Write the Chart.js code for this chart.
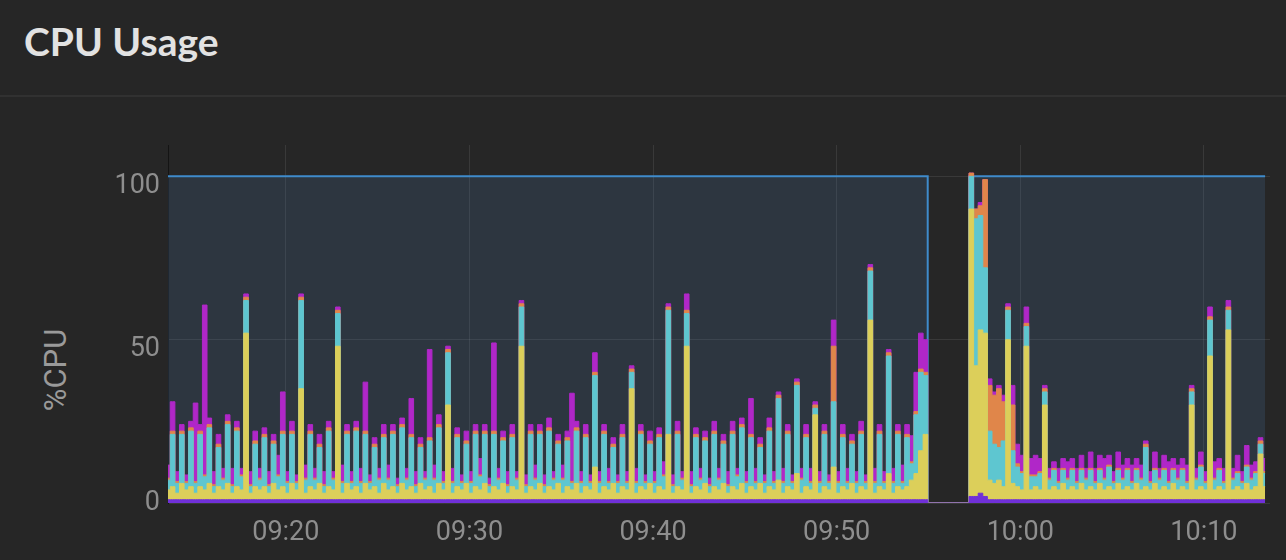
<!DOCTYPE html>
<html>
<head>
<meta charset="utf-8">
<script src="https://cdn.jsdelivr.net/npm/chart.js@4.4.1/dist/chart.umd.min.js"></script>
<style>
  html, body { margin: 0; padding: 0; background: #262626; overflow: hidden; }
  #title {
    position: absolute; left: 24px; top: 22px;
    font: bold 39px Lato, sans-serif; line-height: 39px; color: #e2e2e2;
  }
  #sep { position: absolute; left: 0; top: 95px; width: 1286px; height: 2px; background: #313131; }
  #ylab {
    position: absolute; left: 55px; top: 370px;
    transform: translate(-50%, -50%) rotate(-90deg);
    font: 31px Roboto, sans-serif; color: #9a9a9a; white-space: nowrap;
  }
  #wrap { position: absolute; left: 0; top: 100px; width: 1286px; height: 460px; }
</style>
</head>
<body>
<div id="title">CPU Usage</div>
<div id="sep"></div>
<div id="ylab">%CPU</div>
<div id="wrap"><canvas id="cpu"></canvas></div>
<script>
// time axis: minutes after 09:00, one sample every 15 s
const T_START = 13 + 35 / 60;
const T_END = 73.6;
const STEP = 0.25;

const X_TICKS = [20, 30, 40, 50, 60, 70];
const X_LABELS = ['09:20', '09:30', '09:40', '09:50', '10:00', '10:10'];
const Y_TICKS = [0, 50, 100];

// total capacity (shaded band), drops while the host was down
const capacity = [
  100,100,100,100,100,100,100,100,100,100,100,100,100,100,100,100,100,100,100,100,
  100,100,100,100,100,100,100,100,100,100,100,100,100,100,100,100,100,100,100,100,
  100,100,100,100,100,100,100,100,100,100,100,100,100,100,100,100,100,100,100,100,
  100,100,100,100,100,100,100,100,100,100,100,100,100,100,100,100,100,100,100,100,
  100,100,100,100,100,100,100,100,100,100,100,100,100,100,100,100,100,100,100,100,
  100,100,100,100,100,100,100,100,100,100,100,100,100,100,100,100,100,100,100,100,
  100,100,100,100,100,100,100,100,100,100,100,100,100,100,100,100,100,100,100,100,
  100,100,100,100,100,100,100,100,100,100,100,100,100,100,100,100,100,100,100,100,
  100,100,100,100,100,100,0,0,0,0,0,0,0,0,0,100,100,100,100,100,
  100,100,100,100,100,100,100,100,100,100,100,100,100,100,100,100,100,100,100,100,
  100,100,100,100,100,100,100,100,100,100,100,100,100,100,100,100,100,100,100,100,
  100,100,100,100,100,100,100,100,100,100,100,100,100,100,100,100,100,100,100,100
];

// stacked, bottom to top
const irq = [
  1,1,1,1,1,1,1,1,1,1,1,1,1,1,1,1,1,1,1,1,
  1,1,1,1,1,1,1,1,1,1,1,1,1,1,1,1,1,1,1,1,
  1,1,1,1,1,1,1,1,1,1,1,1,1,1,1,1,1,1,1,1,
  1,1,1,1,1,1,1,1,1,1,1,1,1,1,1,1,1,1,1,1,
  1,1,1,1,1,1,1,1,1,1,1,1,1,1,1,1,1,1,1,1,
  1,1,1,1,1,1,1,1,1,1,1,1,1,1,1,1,1,1,1,1,
  1,1,1,1,1,1,1,1,1,1,1,1,1,1,1,1,1,1,1,1,
  1,1,1,1,1,1,1,1,1,1,1,1,1,1,1,1,1,1,1,1,
  1,1,1,1,1,1,0,0,0,0,0,0,0,0,0,2,2,3,2,1,
  1,1,1,1,1,1,1,1,1,1,1,1,1,1,1,1,1,1,1,1,
  1,1,1,1,1,1,1,1,1,1,1,1,1,1,1,1,1,1,1,1,
  1,1,1,1,1,1,1,1,1,1,1,1,1,1,1,1,1,1,1,1
];

const user = [
  3,4,2,5,3,4,2,4,3,5,2,4,3,5,2,4,3,51,2,4,
  3,4,2,5,3,4,2,5,3,34,2,4,3,5,2,4,3,47,2,5,
  3,4,2,5,3,4,2,5,3,4,2,5,3,4,2,5,3,4,2,5,
  3,29,2,4,3,5,2,4,3,5,2,4,3,5,2,4,3,47,2,4,
  3,5,2,4,3,5,2,4,3,5,2,4,3,10,2,4,3,5,2,4,
  3,34,2,4,3,5,2,4,3,20,2,4,3,47,2,4,3,5,2,4,
  3,5,2,4,3,5,2,4,3,5,2,4,3,6,2,4,3,8,2,4,
  3,26,2,4,3,10,2,4,3,5,2,4,3,55,2,4,3,8,2,4,
  3,4,6,8,15,20,0,0,0,0,0,0,0,0,0,88,40,50,50,6,
  5,6,4,49,5,4,3,47,3,4,3,29,3,4,3,5,3,4,3,5,
  3,4,3,5,3,4,3,5,3,4,3,5,3,4,3,5,3,4,3,5,
  3,4,3,29,3,4,3,44,3,4,3,52,3,4,3,5,3,4,14,4
];

const system = [
  3,16,3,15,2,17,3,16,4,17,2,12,3,18,2,17,4,10,2,13,
  3,15,2,12,4,16,3,15,2,27,4,16,3,11,2,17,3,10,3,15,
  2,17,3,15,2,12,4,14,3,16,2,17,3,15,2,11,3,14,4,17,
  2,16,3,15,2,12,3,16,4,15,2,16,3,13,2,15,3,12,2,16,
  3,15,2,17,3,12,4,14,2,16,3,15,2,28,3,16,2,11,3,15,
  2,5,3,16,2,12,3,15,4,38,2,16,3,10,2,15,3,13,2,16,
  3,12,2,16,4,17,3,15,2,11,3,17,2,25,3,16,2,27,4,15,
  2,2,3,16,2,20,3,15,2,12,3,16,2,15,3,16,2,36,3,16,
  2,15,5,18,24,18,0,0,0,0,0,0,0,0,0,10,45,35,20,15,
  12,10,14,9,10,6,5,6,4,3,5,4,3,5,2,4,3,5,2,4,
  3,5,2,4,3,6,2,4,3,5,2,4,3,12,2,4,3,5,2,4,
  3,5,2,4,3,6,2,11,3,5,2,6,3,4,2,5,3,4,3,4
];

const iowait = [
  0.6,1,0.6,1,0.6,1,0.6,1,0.6,1,0.6,1,0.6,1,0.6,1,0.6,1,0.6,1,
  0.6,1,0.6,1,0.6,1,0.6,1,0.6,1,0.6,1,0.6,1,0.6,1,0.6,1,0.6,1,
  0.6,1,0.6,1,0.6,1,0.6,1,0.6,1,0.6,1,0.6,1,0.6,1,0.6,1,0.6,1,
  0.6,1,0.6,1,0.6,1,0.6,1,0.6,1,0.6,1,0.6,1,0.6,1,0.6,1,0.6,1,
  0.6,1,0.6,1,0.6,1,0.6,1,0.6,1,0.6,1,0.6,1,0.6,1,0.6,1,0.6,1,
  0.6,1,0.6,1,0.6,1,0.6,1,0.6,1,0.6,1,0.6,1,0.6,1,0.6,1,0.6,1,
  0.6,1,0.6,1,0.6,1,0.6,1,0.6,1,0.6,1,0.6,1,0.6,1,0.6,1,0.6,1,
  0.6,1,0.6,1,0.6,17,0.6,1,0.6,1,0.6,1,0.6,1,0.6,1,0.6,1,0.6,1,
  0.6,1,0.6,1,1,1,0,0,0,0,0,0,0,0,0,1,3,3,27,14,
  15,18,12,1,14,1,0.6,1,0.6,0.6,0.6,1,0.6,0.6,0.6,0.6,0.6,0.6,0.6,0.6,
  0.6,0.6,0.6,0.6,0.6,0.6,0.6,0.6,0.6,0.6,0.6,0.6,0.6,1,0.6,0.6,0.6,0.6,0.6,0.6,
  0.6,0.6,0.6,1,0.6,0.6,0.6,1,0.6,0.6,0.6,1,0.6,0.6,0.6,0.6,0.6,0.6,1,0.6
];

const nice = [
  4,9,3,2,2,2,24,2,52,2,4,3,3,2,5,2,2,1,4,3,
  3,2,4,2,6,12,3,3,2,1,4,2,3,3,4,2,2,1,5,2,
  3,2,4,15,2,2,3,3,4,2,2,2,3,11,4,2,2,27,4,3,
  3,1,4,2,2,3,3,2,5,2,2,27,3,2,4,3,2,1,3,2,
  4,2,3,3,2,2,4,2,27,2,3,3,2,6,3,2,4,2,2,3,
  3,1,4,2,2,3,3,2,4,1,3,3,2,5,4,2,3,2,2,3,
  3,2,4,3,2,2,3,11,4,2,2,3,3,1,4,2,2,1,3,3,
  4,1,3,2,2,8,3,3,4,2,3,3,2,1,4,2,3,1,4,2,
  5,3,8,12,11,10,0,0,0,0,0,0,0,0,0,0,0,1,0,2,
  1,1,2,1,6,6,5,5,5,6,4,1,3,2,4,3,5,3,4,4,
  3,5,4,4,6,3,3,5,4,3,5,3,4,1,3,5,3,4,6,3,
  4,3,5,1,3,4,3,3,5,3,4,2,3,5,3,6,4,3,1,4
];

const C = {
  capLine: '#3f8bcb',
  capFill: 'rgba(73,118,168,0.2)',
  irq: '#7030d8',
  user: '#dccf5a',
  system: '#5ec6d0',
  iowait: '#e0864a',
  nice: '#b027c8',
  tick: '#8e8e8e',
  grid: 'rgba(255,255,255,0.09)'
};

const toPoints = arr => arr.map((v, i) => ({x: T_START + i * STEP, y: v}));

const stackedSet = (label, arr, color) => ({
  label,
  data: toPoints(arr),
  stack: 'cpu',
  borderColor: color,
  backgroundColor: color,
  borderWidth: 1,
  stepped: 'middle',
  fill: 'origin'
});

function draw() {
  new Chart(document.getElementById('cpu'), {
    type: 'line',
    data: {
      datasets: [
        stackedSet('irq', irq, C.irq),
        stackedSet('user', user, C.user),
        stackedSet('system', system, C.system),
        stackedSet('iowait', iowait, C.iowait),
        stackedSet('nice', nice, C.nice),
        {
          label: 'total',
          data: toPoints(capacity),
          stack: 'total',
          borderColor: C.capLine,
          backgroundColor: C.capFill,
          borderWidth: 2,
          stepped: 'middle',
          fill: 'origin'
        }
      ]
    },
    options: {
      responsive: true,
      maintainAspectRatio: false,
      animation: false,
      layout: {padding: {top: 45, right: 16, left: 0, bottom: 0}},
      plugins: {legend: {display: false}, tooltip: {enabled: false}},
      elements: {point: {radius: 0}, line: {tension: 0}},
      scales: {
        x: {
          type: 'linear',
          min: T_START,
          max: T_END,
          grid: {color: C.grid, drawTicks: false},
          border: {display: false},
          ticks: {
            color: C.tick,
            font: {family: 'Roboto', size: 27},
            padding: 14,
            maxRotation: 0,
            callback: v => X_LABELS[X_TICKS.indexOf(v)]
          },
          afterBuildTicks: s => { s.ticks = X_TICKS.map(v => ({value: v})); },
          afterFit: s => { s.height = 57; }
        },
        y: {
          stacked: true,
          min: 0,
          max: 109.6,
          grid: {color: C.grid, drawTicks: false},
          border: {display: true, color: '#141414'},
          ticks: {
            color: C.tick,
            font: {family: 'Roboto', size: 27, lineHeight: '20px'},
            padding: 8,
            labelOffset: 10,
            // labels hang below their grid line; the bottom one sits on it
            callback: v => (v === 0 ? ['0', ''] : String(v))
          },
          afterBuildTicks: s => { s.ticks = Y_TICKS.map(v => ({value: v})); },
          afterFit: s => { s.width = 168; }
        }
      }
    }
  });
}

document.fonts.load('27px Roboto').then(draw, draw);
</script>
</body>
</html>
